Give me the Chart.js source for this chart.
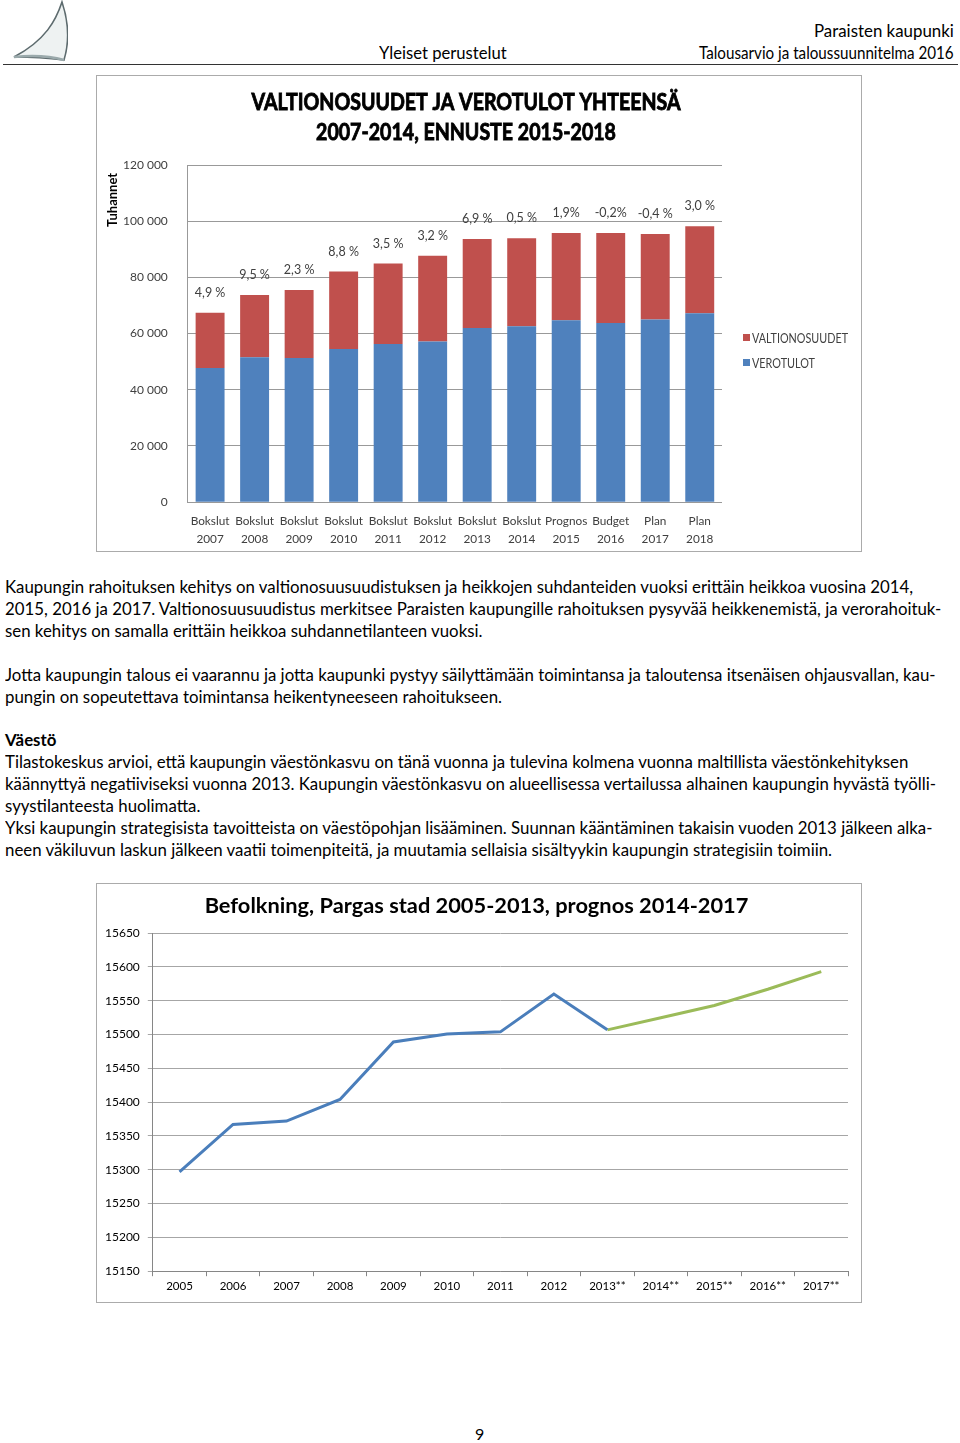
<!DOCTYPE html>
<html>
<head>
<meta charset="utf-8">
<script src="https://cdn.jsdelivr.net/npm/chart.js@4.4.1/dist/chart.umd.min.js"></script>
<style>
  body { margin: 0; width: 960px; height: 1443px; background: #fff; position: relative; font-family: 'Lato', sans-serif; color: #000; }
  .abs { position: absolute; white-space: nowrap; }
  .hdr { font-size: 16.5px; line-height: 20px; }
  .txt { font-size: 17px; line-height: 22px; left: 5px; transform-origin: left center; }
  .box { position: absolute; border: 1px solid #ABABAB; background: #fff; }
</style>
</head>
<body>
<svg class="abs" style="left:4px;top:0" width="64" height="64" viewBox="0 0 64 64">
  <path d="M58 2 C52 20 42 40 10 57 C26 57 44 58 60 60 C66 40 64 20 58 2 Z" fill="#eef2f2" stroke="#5d6b6e" stroke-width="1.6"/>
  <path d="M10 57 C30 55 46 56 60 60" fill="none" stroke="#9aa9ab" stroke-width="2.5"/>
</svg>
<div id="h1" class="abs hdr" style="right:6px;top:21px">Paraisten kaupunki</div>
<div id="h2" class="abs hdr" style="left:379px;top:43px">Yleiset perustelut</div>
<div id="h3" class="abs hdr" style="right:6px;top:43px">Talousarvio ja taloussuunnitelma 2016</div>
<div class="abs" style="left:3px;top:64px;width:955px;height:0;border-top:1.5px solid #333"></div>

<div class="box" style="left:96px;top:75px;width:764px;height:475px">
  <canvas id="taxChart" width="764" height="475"></canvas>
</div>

<div class="abs txt" style="top:576px">Kaupungin rahoituksen kehitys on valtionosuusuudistuksen ja heikkojen suhdanteiden vuoksi erittäin heikkoa vuosina 2014,</div>
<div class="abs txt" style="top:598px">2015, 2016 ja 2017. Valtionosuusuudistus merkitsee Paraisten kaupungille rahoituksen pysyvää heikkenemistä, ja verorahoituk-</div>
<div class="abs txt" style="top:620px">sen kehitys on samalla erittäin heikkoa suhdannetilanteen vuoksi.</div>
<div class="abs txt" style="top:664px">Jotta kaupungin talous ei vaarannu ja jotta kaupunki pystyy säilyttämään toimintansa ja taloutensa itsenäisen ohjausvallan, kau-</div>
<div class="abs txt" style="top:686px">pungin on sopeutettava toimintansa heikentyneeseen rahoitukseen.</div>
<div class="abs txt" style="top:729px;font-weight:bold">Väestö</div>
<div class="abs txt" style="top:751px">Tilastokeskus arvioi, että kaupungin väestönkasvu on tänä vuonna ja tulevina kolmena vuonna maltillista väestönkehityksen</div>
<div class="abs txt" style="top:773px">käännyttyä negatiiviseksi vuonna 2013. Kaupungin väestönkasvu on alueellisessa vertailussa alhainen kaupungin hyvästä työlli-</div>
<div class="abs txt" style="top:795px">syystilanteesta huolimatta.</div>
<div class="abs txt" style="top:817px">Yksi kaupungin strategisista tavoitteista on väestöpohjan lisääminen. Suunnan kääntäminen takaisin vuoden 2013 jälkeen alka-</div>
<div class="abs txt" style="top:839px">neen väkiluvun laskun jälkeen vaatii toimenpiteitä, ja muutamia sellaisia sisältyykin kaupungin strategisiin toimiin.</div>

<div class="box" style="left:96px;top:883px;width:764px;height:418px">
  <canvas id="popChart" width="764" height="418"></canvas>
</div>

<div class="abs" style="left:475px;top:1424px;font-size:16px;line-height:20px">9</div>

<script>
// --- chart 1 data: tax income + state grants (thousand euro)
const budgetLabels = [['Bokslut','2007'],['Bokslut','2008'],['Bokslut','2009'],['Bokslut','2010'],['Bokslut','2011'],['Bokslut','2012'],['Bokslut','2013'],['Bokslut','2014'],['Prognos','2015'],['Budget','2016'],['Plan','2017'],['Plan','2018']];
const verotulot = [47700, 51600, 51300, 54500, 56300, 57200, 62000, 62600, 64700, 63800, 65000, 67200];
const valtionosuudet = [19700, 22100, 24200, 27600, 28600, 30500, 31700, 31300, 31100, 32000, 30400, 31000];
const changeLabels = ['4,9 %','9,5 %','2,3 %','8,8 %','3,5 %','3,2 %','6,9 %','0,5 %','1,9%','-0,2%','-0,4 %','3,0 %'];

// --- chart 2 data: population
const popYears = ['2005','2006','2007','2008','2009','2010','2011','2012','2013**','2014**','2015**','2016**','2017**'];
const popActual = [15297, 15367, 15372, 15404, 15489, 15501, 15504, 15560, 15507, null, null, null, null];
const popForecast = [null, null, null, null, null, null, null, null, 15507, 15525, 15543, 15567, 15593];

// squeeze html text lines to the widths of the scanned page
function squeeze(el, w, origin) {
    el.style.transformOrigin = origin;
    el.style.transform = 'scaleX(' + (w / el.offsetWidth) + ')';
}
squeeze(document.getElementById('h1'), 140, 'right center');
squeeze(document.getElementById('h2'), 128, 'left center');
squeeze(document.getElementById('h3'), 255, 'right center');
const lines = document.querySelectorAll('.txt');
const bodyScale = 908 / lines[0].offsetWidth;
lines.forEach(el => { el.style.transform = 'scaleX(' + bodyScale + ')'; });

// draw text squeezed horizontally so it takes width w
function squeezedText(ctx, text, x, y, w, heavy) {
    const s = w / ctx.measureText(text).width;
    ctx.save();
    ctx.translate(x, y);
    ctx.scale(s, 1);
    ctx.fillText(text, 0, 0);
    if (heavy) {
        ctx.lineWidth = heavy;
        ctx.strokeText(text, 0, 0);
    }
    ctx.restore();
    return s;
}

const decorPlugin = {
    id: 'decor',
    afterDatasetsDraw(chart) {
        const ctx = chart.ctx;
        const area = chart.chartArea;
        ctx.save();
        // change % above each stack
        const meta = chart.getDatasetMeta(1);
        ctx.font = '12.5px Lato';
        ctx.fillStyle = '#404040';
        ctx.textAlign = 'center';
        ctx.textBaseline = 'middle';
        meta.data.forEach((bar, i) => {
            ctx.fillText(changeLabels[i], bar.x, bar.y - 20);
        });
        // title, squeezed like the original
        ctx.fillStyle = '#000';
        ctx.strokeStyle = '#000';
        ctx.font = 'bold 23.5px Lato';
        const s = squeezedText(ctx, 'VALTIONOSUUDET JA VEROTULOT YHTEENSÄ', 369, 26, 429, 0.9);
        const w2 = ctx.measureText('2007-2014, ENNUSTE 2015-2018').width * s;
        squeezedText(ctx, '2007-2014, ENNUSTE 2015-2018', 369, 56, w2, 0.9);
        // axis unit
        ctx.save();
        ctx.font = 'bold 13px Lato';
        ctx.translate(16, 124);
        ctx.rotate(-Math.PI / 2);
        ctx.fillText('Tuhannet', 0, 0);
        ctx.restore();
        // legend
        ctx.textAlign = 'left';
        ctx.font = '14px Lato';
        const legendItems = [chart.data.datasets[1], chart.data.datasets[0]];
        legendItems.forEach((ds, i) => {
            const y = 262 + i * 25;
            ctx.fillStyle = ds.backgroundColor;
            ctx.fillRect(area.right + 21, y - 4, 7, 7);
            ctx.fillStyle = '#404040';
            squeezedText(ctx, ds.label, area.right + 30, y, ds.label === 'VALTIONOSUUDET' ? 96 : 63);
        });
        ctx.restore();
    }
};

const thousands = v => String(v).replace(/\B(?=(\d{3})+(?!\d))/g, ' ');

const taxChart = new Chart(document.getElementById('taxChart').getContext('2d'), {
    type: 'bar',
    data: {
        labels: budgetLabels,
        datasets: [{
                label: 'VEROTULOT',
                data: verotulot,
                backgroundColor: '#4F81BD',
                barPercentage: 0.65,
                categoryPercentage: 1,
            },
            {
                label: 'VALTIONOSUUDET',
                data: valtionosuudet,
                backgroundColor: '#C0504D',
                barPercentage: 0.65,
                categoryPercentage: 1,
            }
        ]
    },
    options: {
        responsive: false,
        animation: false,
        layout: { padding: { left: 6, right: 139, top: 89, bottom: -7 } },
        plugins: {
            legend: { display: false },
            tooltip: { enabled: false }
        },
        scales: {
            x: {
                stacked: true,
                grid: { display: false, drawTicks: false },
                border: { display: false },
                ticks: { autoSkip: false, color: '#404040', font: { family: 'Lato', size: 11.8, lineHeight: 1.52 }, padding: 10, maxRotation: 0 }
            },
            y: {
                stacked: true,
                min: 0,
                max: 120000,
                grid: { color: '#999', drawTicks: false },
                border: { color: '#999' },
                ticks: { stepSize: 20000, padding: 20, color: '#404040', font: { family: 'Lato', size: 12 }, callback: thousands }
            }
        }
    },
    plugins: [decorPlugin]
});

new Chart(document.getElementById('popChart').getContext('2d'), {
    type: 'line',
    data: {
        labels: popYears,
        datasets: [{
                label: 'Befolkning',
                data: popActual,
                borderColor: '#4A7EBB',
                borderWidth: 3,
                pointRadius: 0,
                tension: 0,
            },
            {
                label: 'Prognos',
                data: popForecast,
                borderColor: '#9BBB59',
                borderWidth: 3,
                pointRadius: 0,
                tension: 0,
            }
        ]
    },
    options: {
        responsive: false,
        animation: false,
        layout: { padding: { left: 8, right: 13, top: 0, bottom: 6 } },
        plugins: {
            title: {
                display: true,
                text: 'Befolkning, Pargas stad 2005-2013, prognos 2014-2017',
                color: '#000',
                font: { family: 'Lato', size: 21.8, weight: 'bold' },
                padding: { top: 9, bottom: 14 }
            },
            legend: { display: false },
            tooltip: { enabled: false }
        },
        scales: {
            x: {
                offset: true,
                grid: { offset: true, drawOnChartArea: false, drawTicks: true, tickLength: 5, color: '#868686' },
                border: { color: '#868686' },
                ticks: { autoSkip: false, color: '#000', font: { family: 'Lato', size: 11.5 }, padding: 3, maxRotation: 0 }
            },
            y: {
                min: 15150,
                max: 15650,
                grid: { color: '#A6A6A6', tickLength: 5 },
                border: { color: '#868686' },
                ticks: { stepSize: 50, crossAlign: 'far', color: '#000', font: { family: 'Lato', size: 12 }, padding: 4, callback: v => String(v) }
            }
        }
    }
});

// redraw once the bold title face is surely loaded
if (document.fonts && document.fonts.load) {
    document.fonts.load('bold 23.5px Lato').then(() => taxChart.draw());
}
</script>
</body>
</html>
